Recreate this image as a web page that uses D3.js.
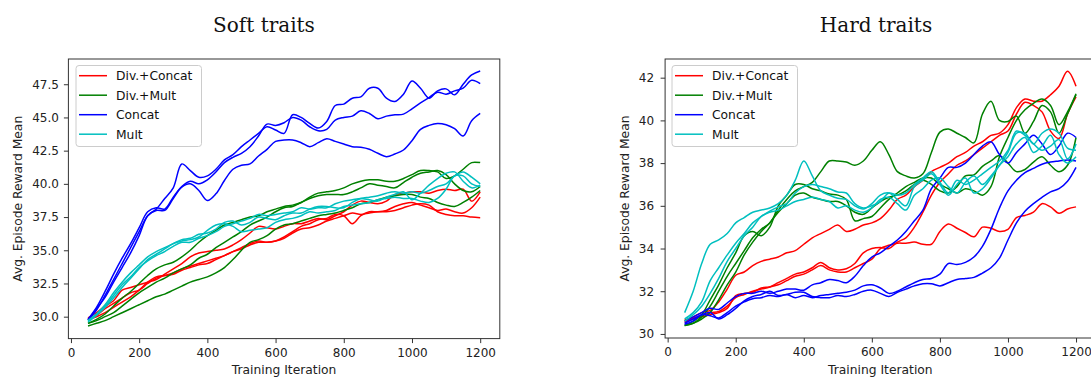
<!DOCTYPE html>
<html>
<head>
<meta charset="utf-8">
<script src="https://cdn.jsdelivr.net/npm/d3@7"></script>
<style>
  body { margin: 0; background: #fff; }
  svg { display: block; }
  .axis text { font-family: "DejaVu Sans", sans-serif; font-size: 12px; fill: #222; }
  .axis line { stroke: #333; }
</style>
</head>
<body>
<svg width="1091" height="379"></svg>
<script>
// training iterations (x values shared by every run)
const iterations = [50, 75, 100, 125, 150, 175, 200, 225, 250, 275, 300, 325, 350, 375, 400, 425,
  450, 475, 500, 525, 550, 575, 600, 625, 650, 675, 700, 725, 750, 775, 800, 825, 850, 875, 900,
  925, 950, 975, 1000, 1025, 1050, 1075, 1100, 1125, 1150, 1175, 1200];

const methods = ['Div.+Concat', 'Div.+Mult', 'Concat', 'Mult'];
const methodColors = ['#ff0000', '#008000', '#0000ff', '#00bfbf'];

const xTicks = [0, 200, 400, 600, 800, 1000, 1200];
const softTicksY = [30, 32.5, 35, 37.5, 40, 42.5, 45, 47.5];
const hardTicksY = [30, 32, 34, 36, 38, 40, 42];

// ---- Soft traits: three runs per method ----
const softDivConcat = [
  [29.9,30.3,30.8,31.2,32.0,32.2,32.4,32.6,32.8,33.2, 33.6,34.0,34.5,34.8,34.9,35.0,35.1,35.4,35.8,36.3,
   36.8,36.7,36.6,36.8,37.0,37.0,37.2,37.4,37.3,37.6, 37.9,38.4,38.7,38.6,38.5,38.7,39.2,39.3,39.4,39.4,
   39.3,39.5,39.6,39.5,39.6,38.7,39.4],
  [29.8,30.1,30.6,31.0,31.4,31.8,32.0,32.5,32.9,33.1, 33.3,33.6,33.8,34.0,34.2,34.4,34.6,34.9,35.2,35.5,
   35.7,35.6,35.7,36.0,36.4,36.8,37.0,37.3,37.4,37.7, 37.6,37.0,37.6,37.9,37.9,38.0,38.3,38.5,38.6,38.4,
   38.2,38.0,38.1,37.9,37.8,38.2,39.0],
  [29.8,30.0,30.3,30.7,31.1,31.5,32.0,32.6,33.0,33.1, 33.2,33.5,33.7,33.9,34.0,34.3,34.6,34.9,35.1,35.4,
   35.6,35.6,35.7,35.9,36.3,36.6,36.7,36.9,37.2,37.4, 37.6,37.8,37.7,37.8,37.9,37.9,38.0,38.2,38.4,38.5,
   38.4,37.9,37.7,37.6,37.6,37.5,37.45]
];
const softDivMult = [
  [29.5,29.8,30.2,30.8,31.4,31.9,32.5,33.1,33.6,33.9, 34.1,34.5,35.0,35.6,36.1,36.5,36.9,37.1,37.3,37.5,
   37.6,37.9,38.1,38.3,38.4,38.6,39.0,39.3,39.4,39.5, 39.7,40.0,40.2,40.3,40.3,40.2,40.2,40.4,40.7,41.0,
   41.0,40.9,40.4,40.6,41.1,41.6,41.6],
  [29.5,29.7,30.0,30.3,30.8,31.3,31.8,32.2,32.6,32.9, 33.3,33.6,33.9,34.4,34.7,35.2,35.6,36.0,36.4,36.9,
   37.2,37.5,37.9,38.2,38.3,38.6,38.9,39.1,39.2,39.2, 39.2,39.4,39.7,40.0,39.9,39.8,39.7,40.1,40.5,40.8,
   40.9,41.0,40.7,40.0,39.5,39.4,39.8],
  [29.3,29.5,29.7,30.0,30.3,30.6,30.9,31.2,31.5,31.7, 32.0,32.3,32.6,32.8,33.0,33.3,33.7,34.3,35.0,35.6,
   35.8,36.1,36.6,36.9,37.0,37.2,37.4,37.6,37.7,37.8, 38.0,38.2,38.5,38.6,38.8,39.0,39.1,39.2,39.2,39.0,
   38.9,38.6,38.4,38.3,38.6,39.0,39.5]
];
const softConcat = [
  [29.75,30.5,31.6,32.8,34.0,35.2,36.4,37.6,38.1,38.9, 39.7,41.5,41.0,40.5,40.6,41.1,41.8,42.2,42.8,43.3,
   43.8,44.3,44.05,43.8,45.2,45.0,44.55,44.2,44.7,45.9, 46.0,46.45,46.55,47.2,47.2,46.45,46.2,46.75,47.75,47.2,
   46.45,47.0,47.15,46.7,47.5,48.2,48.5],
  [29.8,30.7,31.9,33.2,34.4,35.5,36.7,37.9,38.2,38.1, 39.0,39.8,40.2,40.0,40.3,40.9,41.6,42.0,42.3,42.8,
   43.6,44.5,44.4,44.6,45.0,44.8,44.3,44.0,44.1,44.8, 45.0,45.1,45.5,45.3,44.9,45.1,45.2,45.25,45.65,46.1,
   46.5,46.9,46.75,47.0,47.2,47.8,47.55],
  [29.75,30.6,31.45,32.6,33.7,34.8,36.1,37.6,38.0,38.0, 38.9,39.75,40.0,39.5,38.75,39.25,40.25,41.1,41.4,41.5,
   42.1,42.6,43.2,43.3,43.3,43.1,42.8,43.1,43.4,43.2, 43.0,42.8,42.75,42.6,42.3,42.05,42.25,42.55,43.25,44.1,
   44.4,44.55,44.45,44.15,43.6,44.75,45.3]
];
const softMult = [
  [29.7,30.2,30.9,31.8,32.6,33.3,33.9,34.5,34.9,35.2, 35.5,35.8,35.9,36.2,36.3,36.6,37.1,37.2,36.9,37.1,
   37.5,37.4,37.3,37.6,37.8,37.8,38.1,38.3,38.3,38.2, 38.2,38.6,38.9,39.0,39.1,39.3,39.4,39.3,39.4,39.3,
   39.5,39.8,40.0,40.6,40.9,40.5,40.0],
  [29.6,30.1,30.7,31.4,32.2,32.9,33.6,34.3,34.7,35.1, 35.5,35.7,35.8,36.0,36.5,36.9,37.0,36.8,36.4,36.5,
   36.6,36.7,37.1,37.3,37.4,37.6,37.9,37.8,37.9,38.0, 38.3,38.4,38.5,38.6,38.8,38.9,39.0,38.9,38.9,38.7,
   38.6,38.9,39.6,40.6,40.6,40.0,39.8],
  [29.7,30.2,30.8,31.6,32.4,33.0,33.7,34.2,34.6,34.9, 35.3,35.6,35.6,35.9,36.1,36.4,36.8,37.0,37.2,37.4,
   37.7,37.6,37.7,37.8,37.9,38.2,38.1,38.2,38.2,38.5, 38.7,38.8,38.9,38.8,38.7,39.0,39.2,39.4,38.8,39.3,
   39.9,40.4,40.8,40.9,40.2,39.7,39.9]
];

// ---- Hard traits: three runs per method ----
const hardDivConcat = [
  [30.65,30.8,31.0,31.1,31.5,32.1,32.75,32.9,33.2,33.4, 33.5,33.6,33.8,33.9,34.2,34.5,34.7,34.9,35.1,34.8,
   34.9,35.1,35.2,35.4,35.8,36.3,36.5,36.9,37.2,37.6, 37.8,38.0,38.3,38.5,38.8,39.0,39.3,39.4,39.8,40.6,
   41.0,40.9,40.9,41.2,41.6,42.3,41.6],
  [30.6,30.75,30.85,31.0,31.05,31.3,31.7,31.85,32.0,32.1, 32.2,32.4,32.6,32.8,32.9,33.1,33.35,33.1,33.0,33.05,
   33.3,33.8,34.0,34.05,34.0,34.3,34.5,35.0,35.7,36.5, 37.1,37.5,37.9,38.1,38.4,38.7,39.0,39.3,39.5,40.3,
   40.85,40.7,40.4,39.5,39.15,40.3,41.1],
  [30.55,30.7,30.8,30.9,31.0,31.2,31.8,31.9,31.95,32.15, 32.2,32.3,32.5,32.7,32.8,33.0,33.2,33.0,32.9,32.9,
   33.1,33.3,33.5,34.0,34.15,34.25,34.25,34.3,34.2,34.2, 34.8,35.15,34.95,34.75,34.55,35.0,34.95,34.8,34.9,35.45,
   35.55,35.7,36.1,35.95,35.65,35.85,35.95]
];
const hardDivMult = [
  [30.4,30.5,30.8,31.3,32.0,32.7,33.3,33.9,34.5,34.9, 35.2,35.8,36.3,36.7,36.9,37.1,37.6,38.1,38.1,38.05,
   37.9,38.1,38.6,39.0,38.4,37.6,37.4,37.3,37.5,38.5, 39.45,39.6,39.4,39.2,38.95,40.3,40.9,40.0,39.95,40.2,
   39.4,39.95,40.7,40.4,39.4,40.3,41.2],
  [30.4,30.6,30.9,31.6,32.3,33.1,33.8,34.6,34.8,34.6, 35.0,36.0,36.5,37.0,37.0,36.8,36.7,36.55,36.5,36.3,
   35.3,35.4,35.5,35.9,36.3,36.6,36.9,37.1,37.3,37.3, 37.0,36.8,36.6,36.8,36.7,36.5,36.9,38.3,39.2,40.0,
   40.5,40.8,41.0,40.7,39.8,40.4,41.25],
  [30.4,30.5,30.7,31.0,31.6,32.3,32.9,33.7,34.3,34.8, 35.2,35.7,36.1,36.5,36.6,36.4,36.3,36.2,36.2,36.0,
   35.7,35.6,35.9,36.2,36.4,36.5,36.7,37.0,37.2,37.0, 36.7,36.6,36.9,37.4,37.45,37.85,38.1,38.35,38.0,37.6,
   37.7,38.05,38.3,37.9,37.6,37.9,39.2]
];
const hardConcat = [
  [30.6,30.8,31.0,31.2,31.15,31.45,31.75,31.9,31.9,32.0, 31.9,32.0,32.1,32.1,32.05,32.3,32.4,32.55,32.5,32.4,
   32.7,33.2,33.6,33.8,34.1,34.4,34.8,35.3,35.8,36.8, 37.3,37.8,37.8,38.0,38.4,38.8,39.0,38.4,38.0,38.5,
   38.9,39.3,38.9,38.4,38.8,39.4,39.2],
  [30.45,30.6,30.9,30.85,30.75,31.0,31.3,31.5,31.65,31.7, 31.8,31.75,31.85,31.7,31.8,31.7,31.8,31.85,31.9,31.95,
   32.05,32.25,32.3,32.15,31.9,32.0,32.2,32.4,32.55,32.6, 32.8,33.3,33.25,33.35,33.6,34.1,34.9,35.9,36.7,37.2,
   37.55,37.75,37.95,38.05,38.1,38.15,38.1],
  [30.5,30.7,30.9,31.0,30.7,30.9,31.2,31.55,31.75,31.85, 32.0,31.8,31.85,31.95,31.95,31.75,31.7,31.7,31.8,31.75,
   31.85,32.0,32.05,31.9,31.75,31.95,32.1,32.25,32.35,32.35, 32.25,32.4,32.55,32.6,32.65,32.85,33.1,33.55,34.4,35.2,
   35.75,36.1,36.4,36.65,36.8,37.15,37.8]
];
const hardMult = [
  [31.0,32.0,33.3,34.2,34.4,34.7,35.2,35.45,35.7,35.8, 35.9,36.1,36.5,37.2,38.1,37.4,36.7,36.5,36.35,36.3,
   36.0,35.85,36.1,36.5,36.6,36.3,36.0,36.9,37.2,37.5, 37.0,36.5,37.0,37.3,36.6,36.8,37.3,37.9,38.5,39.4,
   39.4,38.9,39.4,39.6,39.4,38.7,38.6],
  [30.7,31.0,31.5,32.5,33.1,33.7,34.25,34.7,35.2,35.5, 35.75,35.95,36.1,36.6,36.9,37.0,36.9,36.8,36.65,36.6,
   36.1,35.9,36.0,36.2,36.6,36.5,36.6,37.0,37.3,37.6, 37.1,36.6,37.2,37.0,37.2,37.5,37.8,38.1,38.6,39.5,
   39.3,38.9,38.6,38.8,39.1,38.2,38.9],
  [30.6,30.9,31.3,31.9,32.6,33.4,34.0,34.6,35.0,35.5, 35.7,35.8,36.0,36.2,36.3,36.4,36.3,36.2,35.9,36.0,
   35.8,35.7,35.9,36.3,36.4,36.1,35.8,36.5,36.8,37.2, 37.3,36.9,36.6,37.1,37.4,37.0,37.4,37.9,38.3,38.9,
   39.2,38.5,38.8,39.3,38.4,38.0,38.3]
];

const svg = d3.select('svg');

drawPanel({
  title: 'Soft traits', titleX: 264,
  left: 68.4, right: 499.8, top: 59, bottom: 338.6,
  yDomain: [28.35, 49.4], yTicks: softTicksY, yFormat: d3.format('.1f'),
  yPad: 5, yLabelX: 21.5, legendX: 76,
  runs: [softDivConcat, softDivMult, softConcat, softMult]
});

drawPanel({
  title: 'Hard traits', titleX: 876,
  left: 665.1, right: 1095.6, top: 59, bottom: 338,
  yDomain: [29.81, 42.875], yTicks: hardTicksY, yFormat: d3.format('d'),
  yPad: 6.5, yLabelX: 629, legendX: 672,
  runs: [hardDivConcat, hardDivMult, hardConcat, hardMult]
});

function drawPanel(p) {
  const x = d3.scaleLinear()
      .domain([-7.5, 1257.5])
      .range([p.left, p.right]);
  const y = d3.scaleLinear()
      .domain(p.yDomain)
      .range([p.bottom, p.top]);

  const line = d3.line()
      .x(function(d, i) { return x(iterations[i]); })
      .y(function(d) { return y(d); })
      .curve(d3.curveCatmullRom.alpha(0.5));

  const g = svg.append('g');

  // one path per run, method by method
  p.runs.forEach(function(runs, m) {
    g.selectAll(null)
      .data(runs)
      .enter().append('path')
        .attr('d', line)
        .attr('fill', 'none')
        .attr('stroke', methodColors[m])
        .attr('stroke-width', 1.5)
        .attr('stroke-linejoin', 'round');
  });

  // frame
  g.append('rect')
      .attr('x', p.left)
      .attr('y', p.top)
      .attr('width', p.right - p.left)
      .attr('height', p.bottom - p.top)
      .attr('fill', 'none')
      .attr('stroke', '#333')
      .attr('stroke-width', 1);

  g.append('g')
      .attr('class', 'axis')
      .attr('transform', 'translate(0,' + p.bottom + ')')
      .call(d3.axisBottom(x).tickValues(xTicks).tickFormat(d3.format('d')).tickSize(4.5).tickPadding(5))
    .select('.domain')
      .remove();

  g.append('g')
      .attr('class', 'axis')
      .attr('transform', 'translate(' + p.left + ',0)')
      .call(d3.axisLeft(y).tickValues(p.yTicks).tickFormat(p.yFormat).tickSize(4.5).tickPadding(p.yPad))
    .select('.domain')
      .remove();

  g.append('text')
      .attr('x', (p.left + p.right) / 2)
      .attr('y', 374)
      .attr('text-anchor', 'middle')
      .attr('font-family', '"DejaVu Sans", sans-serif')
      .attr('font-size', '12.3px')
      .attr('fill', '#222')
      .text('Training Iteration');

  g.append('text')
      .attr('transform', 'translate(' + p.yLabelX + ',' + (p.top + p.bottom) / 2 + ') rotate(-90)')
      .attr('text-anchor', 'middle')
      .attr('font-family', '"DejaVu Sans", sans-serif')
      .attr('font-size', '12.3px')
      .attr('fill', '#222')
      .text('Avg. Episode Reward Mean');

  g.append('text')
      .attr('x', p.titleX)
      .attr('y', 31.5)
      .attr('text-anchor', 'middle')
      .attr('font-family', '"DejaVu Serif", serif')
      .attr('font-size', '20px')
      .attr('fill', '#111')
      .text(p.title);

  /* legend */
  const lg = g.append('g')
      .attr('transform', 'translate(' + p.legendX + ',65.5)');
  lg.append('rect')
      .attr('width', 125.5)
      .attr('height', 81)
      .attr('rx', 3)
      .attr('fill', '#fff')
      .attr('fill-opacity', 0.8)
      .attr('stroke', '#ccc');
  const item = lg.selectAll('.item')
      .data(methods)
      .enter().append('g')
        .attr('class', 'item')
        .attr('transform', function(d, i) { return 'translate(0,' + (10.2 + i * 19.5) + ')'; });
  item.append('line')
      .attr('x1', 3)
      .attr('x2', 31)
      .attr('stroke', function(d, i) { return methodColors[i]; })
      .attr('stroke-width', 1.5);
  item.append('text')
      .attr('x', 40)
      .attr('dy', '0.35em')
      .attr('font-family', '"DejaVu Sans", sans-serif')
      .attr('font-size', '12.3px')
      .attr('fill', '#111')
      .text(function(d) { return d; });
}
</script>
</body>
</html>
